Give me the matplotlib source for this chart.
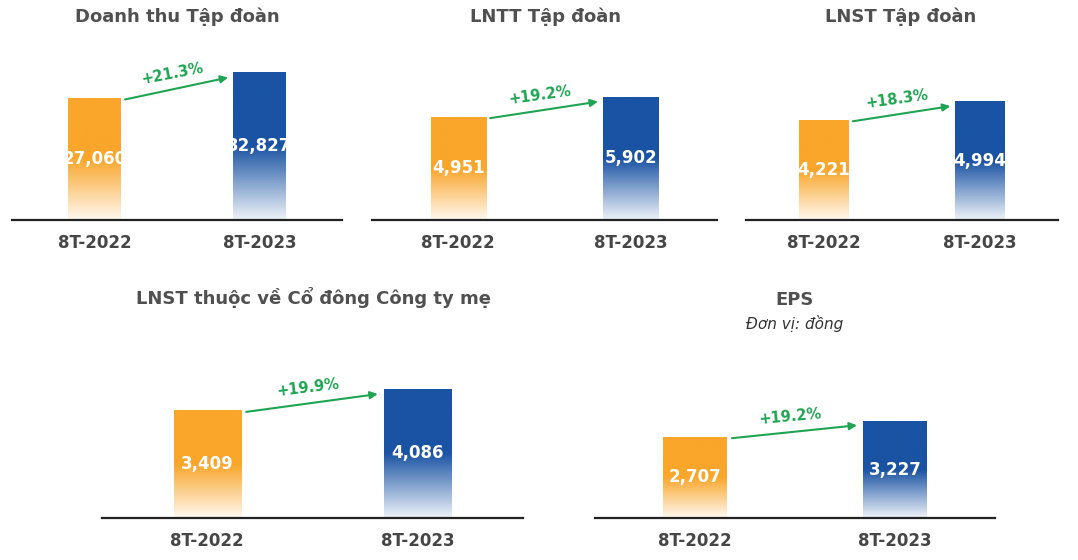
import numpy as np
import matplotlib.pyplot as plt
import matplotlib.colors as mcolors

W, H = 1078, 560

periods = ["8T-2022", "8T-2023"]
titles = ["Doanh thu Tập đoàn", "LNTT Tập đoàn", "LNST Tập đoàn",
          "LNST thuộc về Cổ đông Công ty mẹ", "EPS"]
subtitles = ["", "", "", "", "Đơn vị: đồng"]
doanh_thu = [27060, 32827]
lntt = [4951, 5902]
lnst = [4221, 4994]
lnst_cty_me = [3409, 4086]
eps = [2707, 3227]
series = [doanh_thu, lntt, lnst, lnst_cty_me, eps]

# layout in pixels: left, right, baseline, top, ymax, title x, title y
layout = [
    (12, 342, 220, 50, 37600, 177, 17),
    (372, 717, 220, 50, 8140, 545, 17),
    (746, 1058, 220, 50, 7160, 901, 17),
    (102, 523, 518, 350, 5316, 314, 297),
    (595, 995, 518, 350, 5613, 795, 300),
]

orange = "#F9A62B"
blue = "#1A53A3"
green = "#1FA552"
title_col = "#505050"
tick_col = "#464646"
bar_w = 0.32

plt.rcParams['font.family'] = ['DejaVu Sans']
fig = plt.figure(figsize=(W / 100, H / 100), dpi=100)


def gradient(color):
    rgb = np.array(mcolors.to_rgb(color))
    f = np.linspace(1, 0, 200)[:, None]  # top row first
    t = np.clip(f / 0.5, 0, 1)
    a = 0.07 + 0.93 * t
    img = (1 - a)[..., None] * np.ones(3) + a[..., None] * rgb
    return img


for i, vals in enumerate(series):
    x0, x1, base, top, ymax, tx, ty = layout[i]
    ax = fig.add_axes([x0 / W, 1 - base / H, (x1 - x0) / W, (base - top) / H])
    xs = np.arange(len(vals))
    bars = ax.bar(xs, vals, width=bar_w, color="none", edgecolor="none")
    for b, c in zip(bars, [orange, blue]):
        im = ax.imshow(gradient(c), extent=[b.get_x(), b.get_x() + b.get_width(), 0, b.get_height()],
                       aspect="auto", zorder=2, interpolation="bilinear")
        im.set_clip_path(b)
    for xv, v in zip(xs, vals):
        ax.text(xv, v / 2, f"{v:,}", ha="center", va="center", color="white",
                fontsize=12, fontweight="bold", zorder=3)
    ax.set_xlim(-0.5, 1.5)
    ax.set_ylim(0, ymax)
    for s in ["top", "left", "right"]:
        ax.spines[s].set_visible(False)
    ax.spines["bottom"].set_color("#222222")
    ax.spines["bottom"].set_linewidth(1.6)
    ax.set_yticks([])
    ax.set_xticks(xs, periods)
    ax.tick_params(axis="x", length=0, pad=10, labelsize=12, labelcolor=tick_col)
    for lb in ax.get_xticklabels():
        lb.set_fontweight("bold")

    # growth arrow
    start = (bar_w / 2 + 0.025, vals[0] * 0.985)
    end = (1 - bar_w / 2 - 0.03, vals[1] * 0.96)
    ax.annotate("", xy=end, xytext=start,
                arrowprops=dict(arrowstyle="-|>", color=green, lw=1.5,
                                mutation_scale=11, shrinkA=0, shrinkB=0), zorder=4)
    p0 = ax.transData.transform(start)
    p1 = ax.transData.transform(end)
    ang = np.degrees(np.arctan2(p1[1] - p0[1], p1[0] - p0[0]))
    mid = ((start[0] + end[0]) / 2, (start[1] + end[1]) / 2)
    pct = (vals[1] / vals[0] - 1) * 100
    ax.annotate(f"+{pct:.1f}%", xy=mid, xytext=(-4, 15), textcoords="offset pixels",
                ha="center", va="center", rotation=ang * 0.9, color=green,
                fontsize=10.5, fontweight="bold", annotation_clip=False)

    fig.text(tx / W, 1 - ty / H, titles[i], ha="center", va="center",
             fontsize=13, fontweight="bold", color=title_col)
    if subtitles[i]:
        fig.text(tx / W, 1 - (ty + 23) / H, subtitles[i], ha="center", va="center",
                 fontsize=11, style="italic", color="#333333")

fig.savefig("out.png", dpi=100, facecolor="white")
